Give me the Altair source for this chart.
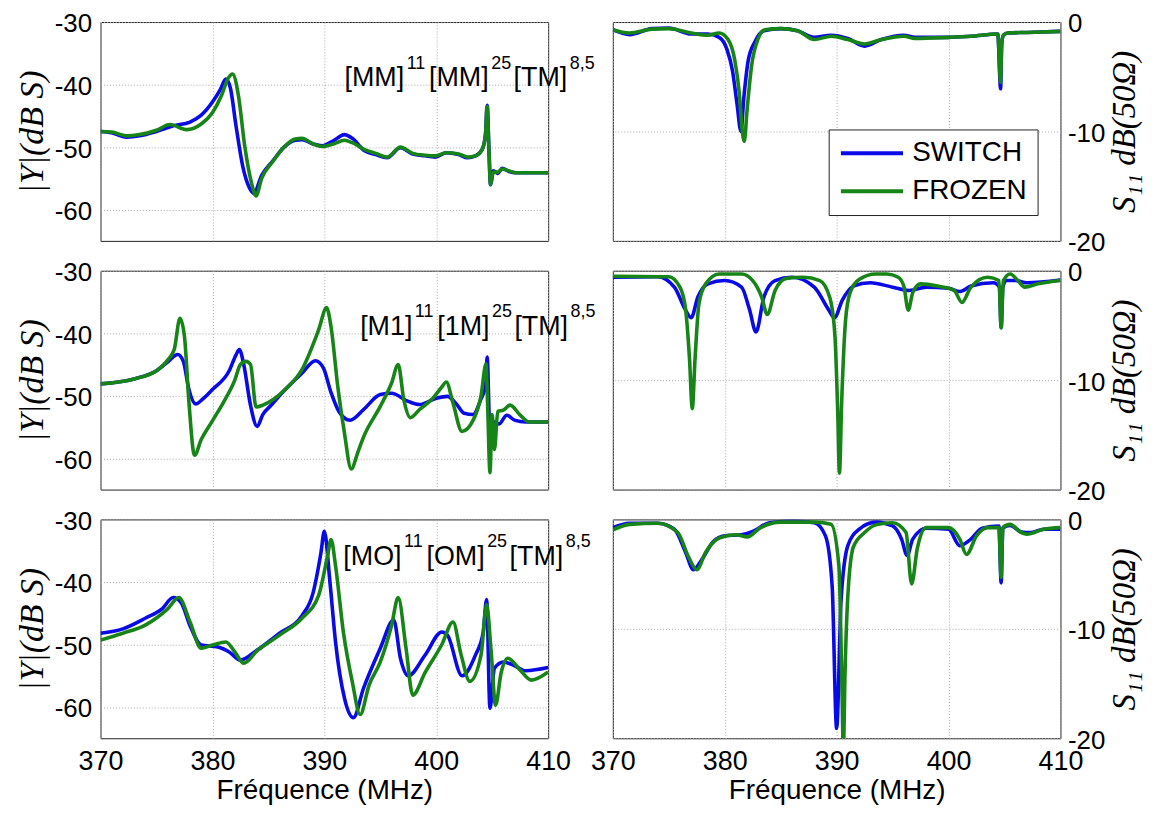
import altair as alt
import pandas as pd

# ---------------- data ----------------
# Row 1 : [MM]11[MM]25[TM]8,5
l1_sw_f = [370, 371, 372.3, 373.5, 375, 376.5, 378, 379, 380, 380.7, 381.2, 381.6, 382.1, 382.7, 383.3, 383.7, 384.4, 385.4, 386.4, 387.4, 388, 389, 389.8, 390.8, 391.8, 392.5, 393.6, 394.6, 395.6, 396.8, 397.9, 399, 399.9, 400.9, 402, 402.8, 403.5, 404.1, 404.4, 404.55, 404.7, 404.85, 405.1, 405.5, 405.9, 406.5, 407.1, 408, 410]
l1_sw_v = [-47.5, -47.7, -48.4, -48.2, -47.5, -46.6, -46.0, -44.9, -42.8, -40.8, -39.1, -40.5, -46.5, -53, -56.5, -57.4, -54.5, -52.2, -50, -48.9, -48.8, -49.5, -49.8, -49, -48, -48.6, -50.6, -51.2, -51.7, -50.1, -51.1, -51.4, -51.6, -50.9, -51.2, -51.7, -51.4, -50.4, -48, -43.3, -50, -56, -53.8, -54.2, -53.4, -53.9, -54.1, -54.1, -54.1]
l1_fr_f = [370, 371, 372.3, 373.5, 375, 376.2, 377.7, 379, 380, 380.8, 381.4, 381.8, 382.3, 382.9, 383.5, 383.9, 384.4, 385.4, 386.4, 387.4, 388, 389, 389.8, 390.8, 391.8, 392.5, 393.6, 394.6, 395.6, 396.8, 397.9, 399, 399.9, 400.9, 402, 402.8, 403.5, 404.1, 404.4, 404.55, 404.7, 404.85, 405.1, 405.5, 405.9, 406.5, 407.1, 408, 410]
l1_fr_v = [-47.5, -47.6, -48.2, -48.0, -47.3, -46.4, -47.2, -46.3, -44.5, -41.8, -39.0, -38.3, -41.5, -50, -55.8, -57.8, -55.0, -52.3, -50, -48.7, -48.6, -49.5, -49.9, -49.5, -48.9, -49.3, -50.4, -51.0, -51.6, -50.0, -51.0, -51.3, -51.4, -50.9, -51.1, -51.6, -51.4, -50.4, -48, -43.5, -50, -56, -54, -54, -53.5, -53.8, -54.1, -54.1, -54.1]

r1_sw_f = [370, 371.5, 373.5, 375, 377, 378.5, 379.5, 380.2, 380.7, 381.1, 381.45, 381.7, 382.1, 382.7, 383.5, 385, 386.5, 388, 389.5, 391, 392.5, 394, 396, 397, 400, 402, 404.4, 404.65, 404.75, 404.9, 405.3, 407, 410]
r1_sw_v = [-0.7, -1.15, -0.6, -0.55, -1.1, -1.1, -1.4, -2.5, -4.5, -7.5, -10.0, -7.0, -3.5, -1.8, -0.8, -0.6, -0.8, -1.4, -1.2, -1.5, -2.2, -1.6, -1.2, -1.4, -1.4, -1.3, -1.1, -6.1, -2.0, -1.2, -1.0, -0.95, -0.85]
r1_fr_f = [370, 371.5, 373.5, 375, 377, 378.5, 379.5, 380.3, 380.9, 381.3, 381.55, 381.75, 382.0, 382.4, 383.0, 383.6, 385, 386.5, 388, 389.5, 391, 392.5, 394, 396, 397, 400, 402, 404.4, 404.65, 404.75, 404.9, 405.3, 407, 410]
r1_fr_v = [-0.7, -1.0, -0.65, -0.6, -1.0, -1.2, -1.0, -1.6, -3.5, -6.5, -9.8, -10.9, -8.0, -4.0, -1.5, -0.7, -0.6, -0.8, -1.6, -1.3, -1.6, -2.0, -1.6, -1.3, -1.5, -1.4, -1.3, -1.1, -5.5, -2.0, -1.2, -1.0, -0.95, -0.85]

# Row 2 : [M1]11[1M]25[TM]8,5
l2_sw_f = [370, 373, 375, 376, 376.9, 377.4, 377.9, 378.5, 379.2, 380, 381.5, 382.1, 382.4, 382.8, 383.4, 384.0, 384.5, 385.2, 386.5, 388, 389.2, 389.9, 390.6, 391.3, 392.3, 393.5, 395, 396, 397.5, 398.5, 400, 401, 401.8, 402.5, 403.3, 404.0, 404.4, 404.55, 404.8, 405.2, 405.6, 406.3, 407, 408, 410]
l2_sw_v = [-48.1, -47.3, -46.0, -44.6, -43.4, -44.5, -49, -51.3, -50.4, -49, -46, -43.5, -42.6, -45, -51.5, -54.9, -53, -51.6, -49, -46.4, -44.4, -45.5, -49.5, -52.5, -53.9, -52.2, -49.8, -49.6, -50.9, -51.4, -50.4, -50.1, -51.3, -52.8, -53.0, -50.5, -48.5, -43.8, -56, -54.2, -54.5, -53.1, -53.9, -54.2, -54.2]
l2_fr_f = [370, 373, 375, 376, 376.6, 377.1, 377.5, 377.9, 378.4, 379, 380, 381, 382, 382.5, 383, 383.4, 383.9, 384.5, 385.5, 386.5, 388, 389.5, 390.2, 390.6, 391.2, 391.8, 392.4, 393, 393.5, 395, 396, 396.6, 397.1, 397.7, 398.5, 399.7, 400.5, 400.9, 401.5, 402.3, 403.3, 404.0, 404.45, 404.6, 404.8, 405.0, 405.2, 405.5, 406, 406.6, 407.5, 408.3, 410]
l2_fr_v = [-48.1, -47.3, -46.0, -44.3, -42.5, -37.6, -40.5, -51, -59.5, -57, -54, -51, -47.5, -45, -44.5, -45, -51.8, -51.5, -50.5, -49, -45.8, -39.4, -35.9, -39, -48.5, -56, -61.7, -59, -56.6, -51.7, -48, -45, -50.6, -53.5, -52.2, -50.4, -48.6, -47.8, -51.2, -55.7, -53.9, -50, -44.9, -52, -62.3, -53, -58.6, -52.5, -52.3, -51.5, -53.1, -54.2, -54.2]

r2_sw_f = [370, 374, 375.5, 376.5, 377, 377.6, 378.5, 380, 381.5, 382.2, 382.8, 383.5, 384.5, 386, 388, 389.3, 389.8, 390.5, 391.5, 393, 395, 396.5, 398, 400, 401, 402, 404, 404.55, 404.7, 404.85, 405.2, 406, 407, 410]
r2_sw_v = [-0.6, -0.55, -1.5, -3.6, -4.3, -2.4, -1.2, -0.9, -1.5, -3.5, -5.6, -2.4, -0.9, -0.6, -1.5, -3.6, -4.3, -2.7, -1.4, -1.1, -1.5, -1.8, -1.5, -1.6, -1.9, -1.4, -1.1, -1.5, -5.2, -1.5, -0.9, -0.9, -1.1, -0.85]
r2_fr_f = [370, 375, 376, 376.5, 376.85, 377.1, 377.35, 377.7, 378.3, 379.5, 381.5, 382.5, 383.3, 383.8, 384.5, 385.5, 387, 388.5, 389.4, 389.85, 390.1, 390.25, 390.45, 390.8, 391.2, 392, 393.5, 394.5, 395.5, 396, 396.4, 396.8, 397.5, 399, 400.5, 401.2, 402, 403.5, 404.5, 404.7, 404.9, 405.5, 406.2, 406.8, 408, 410]
r2_fr_v = [-0.5, -0.55, -1.5, -3.5, -8, -12.6, -8, -3, -1.2, -0.3, -0.3, -0.9, -2.4, -4.0, -1.8, -0.7, -0.6, -0.9, -2.5, -6, -13, -18.5, -12, -4.5, -2.0, -0.8, -0.3, -0.3, -0.6, -1.4, -3.6, -2.0, -1.2, -1.4, -1.8, -2.9, -1.5, -0.6, -0.9, -5.2, -0.9, -0.3, -0.9, -1.5, -1.2, -0.9]

# Row 3 : [MO]11[OM]25[TM]8,5
l3_sw_f = [370, 372, 374, 375.5, 376.5, 377.2, 378, 379, 380.5, 381.5, 382.5, 384, 386, 388, 389, 389.7, 390.0, 390.5, 391, 391.8, 392.6, 393.5, 395, 396.2, 396.8, 397.5, 399, 400.5, 401, 402.3, 403.5, 404.2, 404.5, 404.8, 405.2, 406, 407, 408, 410]
l3_sw_v = [-48.2, -47.5, -45.8, -44.3, -42.5, -43.3, -47, -50.1, -50.4, -51.2, -52.5, -50.9, -48.2, -45.4, -41.7, -35.3, -31.9, -40, -49.6, -58.6, -61.7, -57, -50.6, -46.1, -52.2, -55, -51.7, -48, -48.5, -55, -51.7, -48, -42.8, -60.2, -53.8, -52.8, -53.4, -54.2, -53.7]
l3_fr_f = [370, 372, 374, 376, 377, 378, 379, 380, 381.2, 382, 382.8, 384, 386, 388, 389.5, 390.3, 390.6, 391, 391.7, 392.5, 393.2, 394, 395, 396, 396.6, 397.3, 397.9, 399, 400.5, 401.5, 402.2, 403, 404, 404.5, 404.9, 405.3, 405.8, 406.4, 407.5, 408.5, 410]
l3_fr_v = [-49.3, -48.2, -46.9, -44.3, -42.5, -46.4, -50.6, -50.1, -49.6, -51.2, -53, -51, -48.5, -45.8, -42.1, -35.7, -33.2, -37.4, -48, -56, -61.2, -56.5, -52.8, -47, -42.5, -50.6, -58.1, -54.5, -50, -46.4, -51.5, -55.9, -51.7, -43.6, -51, -59.7, -54.5, -52.2, -54.1, -55.7, -54.4]

r3_sw_f = [370, 371.5, 374, 375.5, 376.5, 377.2, 378, 379, 380, 381.5, 382.5, 384, 386, 388, 389, 389.6, 390.0, 390.4, 391, 392, 393.5, 395, 395.8, 396.3, 396.8, 398, 400, 401, 402, 403, 404.5, 404.7, 404.85, 405.5, 406.5, 407.3, 408.5, 410]
r3_sw_v = [-0.75, -0.35, -0.35, -0.9, -3.0, -4.6, -3.6, -2.0, -1.5, -1.4, -1.1, -0.3, -0.15, -0.3, -1.5, -6.1, -19.1, -7.3, -2.4, -0.9, -0.25, -0.6, -1.8, -3.3, -1.8, -0.8, -0.9, -2.4, -1.8, -0.8, -0.6, -5.8, -0.8, -0.55, -1.15, -1.2, -0.9, -0.9]
r3_fr_f = [370, 371.5, 374, 375.8, 376.8, 377.5, 378.3, 379.5, 381, 382, 383.2, 385, 388, 389.5, 390.2, 390.45, 390.6, 390.75, 391, 391.5, 392.5, 393.5, 395, 396.2, 396.7, 397.2, 398, 400, 401, 401.6, 402.5, 403.5, 404.5, 404.7, 404.85, 405.5, 406.5, 407, 408.5, 410]
r3_fr_v = [-0.95, -0.45, -0.35, -1.2, -3.5, -4.6, -3.0, -1.7, -1.4, -1.6, -0.75, -0.25, -0.25, -0.45, -4.2, -14, -21, -14, -7, -2.5, -1.2, -0.5, -0.3, -1.2, -5.9, -2.7, -0.75, -0.75, -1.8, -3.2, -1.5, -0.75, -0.75, -5.3, -0.75, -0.45, -1.2, -1.35, -0.9, -0.75]

series_names = ["SWITCH", "FROZEN"]
x_ticks = [370, 380, 390, 400, 410]
yl_ticks = [-60, -50, -40, -30]
yr_ticks = [-20, -10, 0]
labels = [
    [("[MM]", 0), ("11", 1), ("[MM]", 0), ("25", 1), ("[TM]", 0), ("8,5", 1)],
    [("[M1]", 0), ("11", 1), ("[1M]", 0), ("25", 1), ("[TM]", 0), ("8,5", 1)],
    [("[MO]", 0), ("11", 1), ("[OM]", 0), ("25", 1), ("[TM]", 0), ("8,5", 1)],
]
label_anchor = [(391.8, -40.3), (393.2, -40.3), (391.7, -37.3)]

# ---------------- style ----------------
FONT = "Liberation Sans"
SERIF = "Liberation Serif"
BLUE = "#0a0ae8"
GREEN = "#178417"
W, H = 450, 220
GRID = dict(grid=True, gridDash=[1, 2], gridColor="#a8a8a8", gridWidth=1)
BASE_FS, SUP_FS = 27, 18
CHAR_W = {"[": 0.278, "]": 0.278, "M": 0.833, "T": 0.611, "O": 0.778,
          "1": 0.556, "2": 0.556, "5": 0.556, "8": 0.556, ",": 0.278}
PLAIN = "'' + datum.value"

x_scale = alt.Scale(domain=[370, 410], nice=False, zero=False)
yl_scale = alt.Scale(domain=[-65, -30], nice=False, zero=False)
yr_scale = alt.Scale(domain=[-20, 0], nice=False, zero=False)
c_scale = alt.Scale(domain=series_names, range=[BLUE, GREEN])


def make_df(fs, vs, fr, vr):
    a = pd.DataFrame({"f": fs, "v": vs, "s": series_names[0]})
    b = pd.DataFrame({"f": fr, "v": vr, "s": series_names[1]})
    return pd.concat([a, b], ignore_index=True)


def x_axis(bottom):
    if bottom:
        return alt.Axis(values=x_ticks, labelFontSize=27, labelFont=FONT, labelPadding=10,
                        ticks=False, domain=False, labelFlush=False, labelExpr=PLAIN,
                        title="Fréquence (MHz)", titleFont=FONT, titleFontSize=28,
                        titleFontWeight="normal", titlePadding=3, **GRID)
    return alt.Axis(values=x_ticks, labels=False, ticks=False, domain=False, title=None, **GRID)


def panel(df, side, bottom, legend=False):
    if side == "L":
        yax = alt.Axis(values=yl_ticks, labelFontSize=26, labelFont=FONT, labelPadding=9,
                       ticks=False, domain=False, labelExpr=PLAIN, labelOffset=2,
                       title="|Y|(dB S)", titleFont=SERIF, titleFontStyle="italic",
                       titleFontWeight="normal", titleFontSize=34, titlePadding=5, **GRID)
        ysc = yl_scale
    else:
        yax = alt.Axis(values=yr_ticks, orient="right", labelFontSize=26, labelFont=FONT,
                       labelPadding=7, ticks=False, domain=False, labelExpr=PLAIN,
                       labelOffset=2, title="S₁₁ dB(50Ω)", titleFont=SERIF,
                       titleFontStyle="italic", titleFontWeight="normal", titleFontSize=33,
                       titleAngle=270, titleBaseline="top", titlePadding=4, **GRID)
        ysc = yr_scale
    if legend:
        leg = alt.Legend(orient="none", legendX=217, legendY=108, title=None,
                         symbolType="stroke", symbolStrokeWidth=4, symbolSize=3900,
                         clipHeight=28, labelFontSize=28, labelFont=FONT,
                         strokeColor="#222222", fillColor="white", padding=10,
                         rowPadding=10, labelOffset=7, symbolOffset=0)
    else:
        leg = None
    base = alt.Chart(df).mark_line(strokeWidth=3.6, clip=True, interpolate="monotone").encode(
        x=alt.X("f:Q", scale=x_scale, axis=x_axis(bottom)),
        y=alt.Y("v:Q", scale=ysc, axis=yax),
        color=alt.Color("s:N", scale=c_scale, legend=leg),
    )
    return [base.transform_filter(alt.datum.s == series_names[0]),
            base.transform_filter(alt.datum.s == series_names[1])]


def annotation(pieces, x0, y0):
    marks = []
    off = 0.0
    for txt, sup in pieces:
        fs = SUP_FS if sup else BASE_FS
        marks.append(
            alt.Chart().mark_text(align="left", baseline="alphabetic", font=FONT, fontSize=fs,
                                  dx=off, dy=-18 if sup else 0, color="black", clip=False)
            .encode(x=alt.datum(x0), y=alt.datum(y0), text=alt.value(txt))
        )
        off += sum(CHAR_W[c] for c in txt) * fs + 2.5
    return marks


rows_data = [
    (make_df(l1_sw_f, l1_sw_v, l1_fr_f, l1_fr_v), make_df(r1_sw_f, r1_sw_v, r1_fr_f, r1_fr_v)),
    (make_df(l2_sw_f, l2_sw_v, l2_fr_f, l2_fr_v), make_df(r2_sw_f, r2_sw_v, r2_fr_f, r2_fr_v)),
    (make_df(l3_sw_f, l3_sw_v, l3_fr_f, l3_fr_v), make_df(r3_sw_f, r3_sw_v, r3_fr_f, r3_fr_v)),
]

panels = []
for i, (dl, dr) in enumerate(rows_data):
    bottom = i == 2
    left = alt.layer(*panel(dl, "L", bottom), *annotation(labels[i], *label_anchor[i])).properties(width=W, height=H)
    right = alt.layer(*panel(dr, "R", bottom, legend=(i == 0))).properties(width=W, height=H)
    panels += [left, right]

chart = (
    alt.concat(*panels, columns=2, spacing={"row": 30, "column": 65}, bounds="flush")
    .resolve_scale(color="independent")
    .properties(padding={"left": 6, "top": 0, "right": 5, "bottom": 2}, background="white")
    .configure_view(stroke="#222222", strokeWidth=1)
)

chart.save("out.html", embed_options={"renderer": "svg", "actions": False})
